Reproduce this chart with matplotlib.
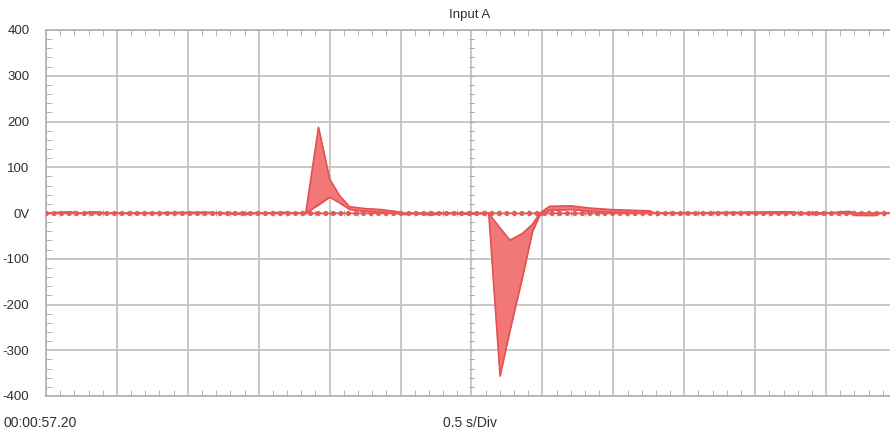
import matplotlib
matplotlib.use("Agg")
import matplotlib.pyplot as plt
import numpy as np

# envelope of the captured trace (time in s, volts)
t = [0.00, 0.10, 0.17, 0.24, 0.32, 0.38, 0.45, 1.09, 1.16, 1.23, 1.40, 1.47,
     1.69, 1.76, 1.83, 1.92, 2.00, 2.07, 2.14, 2.25, 2.36, 2.46, 2.53, 2.60,
     2.71, 2.81, 2.99, 3.12, 3.20, 3.27, 3.36, 3.43, 3.48, 3.55, 3.70, 3.84,
     3.98, 4.26, 4.29, 5.25, 5.32, 5.42, 5.49, 5.66, 5.71, 5.85, 5.88, 6.00]
upper = [0, 2, 3, 0, 3, 2, 0, 2, 2, 0, 0, 0,
         2, 0, 0, 188, 74, 38, 14, 10, 8, 4, 0, 0,
         0, 0, 0, 0, -32, -59, -44, -24, 0, 15, 16, 11,
         8, 5, 0, 3, 0, 2, 0, 4, 0, 0, 0, 0]
lower = [0, 0, 1, 0, 0, 0, 0, 0, 0, 0, -3, 0,
         0, 0, 0, 18, 35, 22, 8, 4, 2, 0, -3, 0,
         -4, 0, -2, 0, -356, -257, -138, -39, -5, 6, 8, 4,
         2, 0, 0, 0, 0, -3, 0, 0, -5, -5, 0, 0]

yticks = [400, 300, 200, 100, 0, -100, -200, -300, -400]
ylabels = ["400", "300", "200", "100", "0V", "-100", "-200", "-300", "-400"]
title = "Input A"
start_label = "00:00:57.20"
scale_label = "0.5 s/Div"

plt.rcParams['font.family'] = ['Liberation Sans', 'DejaVu Sans']
txt = '#303030'
grid = '#c4c4c4'

fig = plt.figure(figsize=(8.9, 4.33), dpi=100)
ax = fig.add_axes([46/890, 37/433, 851/890, 366/433])

ax.set_xlim(0, 6)
ax.set_ylim(-400, 400)
ax.set_xticks(np.arange(0, 6.01, 0.5))
ax.set_xticks(np.arange(0, 6.01, 0.1), minor=True)
ax.set_yticks(yticks)
ax.set_yticklabels(ylabels)
ax.set_yticks(np.arange(-400, 401, 20), minor=True)
ax.xaxis.set_ticklabels([])
ax.grid(True, which='major', color=grid, lw=1.3)
ax.tick_params(axis='y', which='major', length=0, pad=12, labelsize=9.5, labelcolor=txt)
ax.tick_params(axis='y', which='minor', direction='in', length=4, color='#a8a8a8', left=True)
ax.tick_params(axis='x', which='major', length=0)
ax.tick_params(axis='x', which='minor', direction='in', length=4, color='#a8a8a8',
               top=True, bottom=True)
for s in ax.spines.values():
    s.set_color('#b0b0b0')
    s.set_linewidth(1.2)

# center cross ticks
ax.hlines(np.arange(-400, 401, 20), 2.985, 3.015, color='#a8a8a8', lw=0.8)
ax.vlines(np.arange(0, 6.01, 0.1), -6, 6, color='#a8a8a8', lw=0.8)

# trace
ax.fill_between(t, lower, upper, facecolor='#f27878', edgecolor='#e65050', lw=0.8, zorder=3)
ax.plot(t, upper, color='#e65050', lw=0.9, zorder=3)
ax.plot(t, lower, color='#e65050', lw=0.9, zorder=3)

# 0V reference marker line
ax.axhline(0, color='#e85a5a', lw=1.0, zorder=4)
ax.axhline(0, color='#e85a5a', lw=3.8, linestyle=(0, (0.01, 1.42)),
           dash_capstyle='round', zorder=4)

fig.text(470/890, 1 - 15/433, title, ha='center', va='center', fontsize=9.5, color=txt)
fig.text(4/890, 1 - 423/433, start_label, ha='left', va='center', fontsize=10, color=txt)
fig.text(470/890, 1 - 423/433, scale_label, ha='center', va='center', fontsize=10, color=txt)

fig.savefig("out.png", dpi=100)
